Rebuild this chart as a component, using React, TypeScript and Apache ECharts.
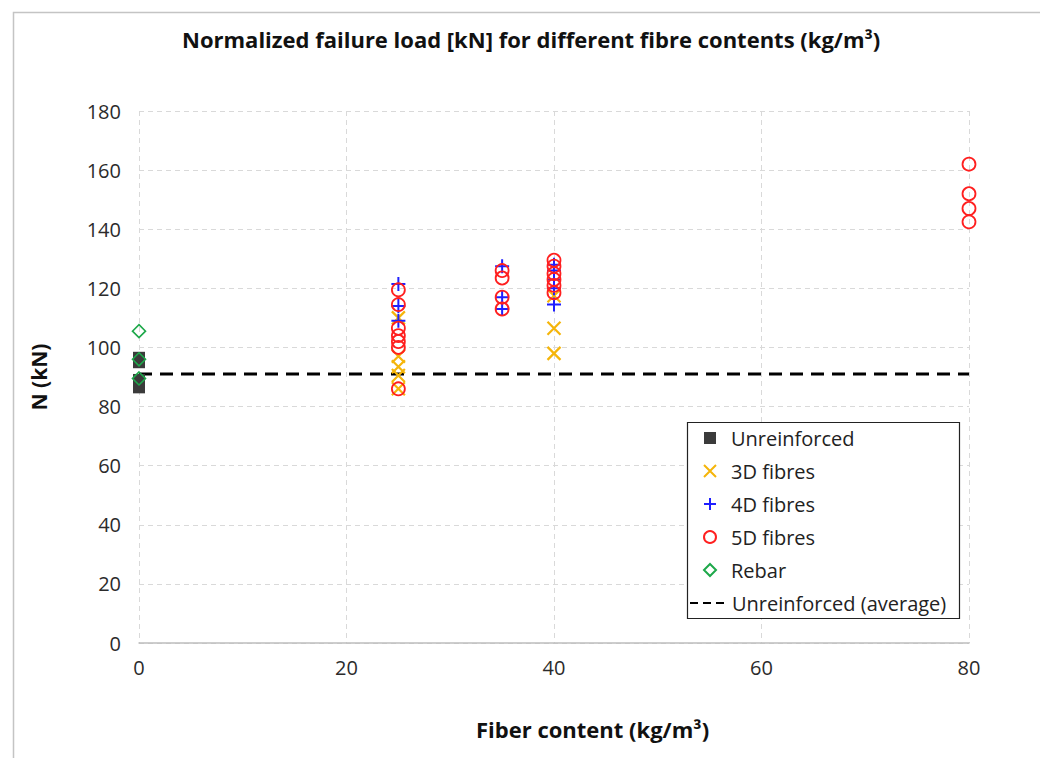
import React, { useEffect, useRef } from "react";
import * as echarts from "echarts";

const unreinforcedX = [0, 0, 0, 0];
const unreinforcedY = [96.5, 95, 89, 86.5];
const fibre3DX = [25, 25, 25, 25, 25, 40, 40, 40];
const fibre3DY = [110, 97, 93.5, 90.5, 86, 117.5, 106.5, 98];
const fibre4DX = [25, 25, 25, 35, 35, 35, 40, 40, 40, 40, 40];
const fibre4DY = [121.5, 114, 109, 127.5, 117, 113, 128, 126, 123, 120, 114.5];
const fibre5DX = [25, 25, 25, 25, 25, 25, 25, 35, 35, 35, 35, 40, 40, 40, 40, 40, 40, 80, 80, 80, 80];
const fibre5DY = [119.5, 114.5, 106.5, 104, 102, 100, 86, 126, 123.5, 117, 113, 129.5, 127.5, 125, 123, 121, 118.5, 162, 152, 147, 142.5];
const rebarX = [0, 0, 0];
const rebarY = [105.5, 96, 89.5];
const averageX = [0, 80];
const averageValue = 91;

const xTicks = { min: 0, max: 80, interval: 20 };
const yTicks = { min: 0, max: 180, interval: 20 };

const pairs = (xs: number[], ys: number[]) => xs.map((x, i) => [x, ys[i]]);

const FONT = "'Open Sans', 'Noto Sans', sans-serif";
const CROSS = "path://M0,0L10,10M10,0L0,10";
const PLUS = "path://M5,0L5,10M0,5L10,5";

export default function App() {
  const ref = useRef<HTMLDivElement>(null);
  useEffect(() => {
    if (!ref.current) return;
    const chart = echarts.init(ref.current, undefined, { renderer: "svg" });
    chart.setOption({
      animation: false,
      backgroundColor: "#fff",
      textStyle: { fontFamily: FONT },
      title: [
        {
          text: "Normalized failure load [kN] for different fibre contents (kg/m³)",
          left: 177,
          top: 23,
          textStyle: { fontSize: 22, fontWeight: "bold", color: "#111", fontFamily: FONT },
        },
        {
          text: "Fiber content (kg/m³)",
          left: 471,
          top: 713,
          textStyle: { fontSize: 22, fontWeight: "bold", color: "#111", fontFamily: FONT },
        },
      ],
      graphic: [
        {
          type: "rect",
          shape: { x: 13.5, y: 12.5, width: 1040, height: 760 },
          style: { fill: "none", stroke: "#c4c4c4", lineWidth: 1.5 },
          silent: true,
          z: -10,
        },
        {
          type: "rect",
          shape: { x: 687.5, y: 422.5, width: 272, height: 196 },
          style: { fill: "#fff", stroke: "#222", lineWidth: 1.2 },
          z: 5,
        },
      ],
      grid: { left: 139, right: 71, top: 111, bottom: 115 },
      xAxis: {
        type: "value",
        min: xTicks.min,
        max: xTicks.max,
        interval: xTicks.interval,
        axisLine: { show: true, lineStyle: { color: "#bdbdbd", width: 1.5 } },
        axisTick: { show: false },
        axisLabel: { fontSize: 20, color: "#2b2b2b", margin: 14, fontFamily: FONT },
        splitLine: { show: true, lineStyle: { color: "#d9d9d9", type: [5, 4], width: 1 } },
      },
      yAxis: {
        type: "value",
        min: yTicks.min,
        max: yTicks.max,
        interval: yTicks.interval,
        name: "N (kN)",
        nameLocation: "middle",
        nameGap: 90,
        nameTextStyle: { fontSize: 21, fontWeight: "bold", color: "#111", fontFamily: FONT },
        axisLine: { show: false },
        axisTick: { show: false },
        axisLabel: { fontSize: 20, color: "#2b2b2b", margin: 18, fontFamily: FONT },
        splitLine: { show: true, lineStyle: { color: "#d9d9d9", type: [5, 4], width: 1 } },
      },
      legend: [
        {
          data: ["Unreinforced", "3D fibres", "4D fibres", "5D fibres", "Rebar"],
          orient: "vertical",
          left: 703,
          top: 428,
          padding: 0,
          itemWidth: 12,
          itemHeight: 12,
          itemGap: 13,
          z: 10,
          textStyle: { fontSize: 20, color: "#222", lineHeight: 17, padding: [0, 0, 0, 10], fontFamily: FONT },
        },
        {
          data: ["Unreinforced (average)"],
          orient: "vertical",
          left: 689,
          top: 593,
          padding: 0,
          itemWidth: 38,
          itemHeight: 12,
          z: 10,
          itemStyle: { opacity: 0 },
          lineStyle: { width: 2, type: [8, 5] },
          textStyle: { fontSize: 20, color: "#222", lineHeight: 17, padding: [0, 0, 0, -1], fontFamily: FONT },
        },
      ],
      series: [
        {
          name: "Unreinforced (average)",
          type: "line",
          data: averageX.map((x) => [x, averageValue]),
          symbol: "none",
          lineStyle: { color: "#000", width: 3, type: [13, 8] },
          itemStyle: { color: "#000" },
          z: 1,
        },
        {
          name: "Unreinforced",
          type: "scatter",
          data: pairs(unreinforcedX, unreinforcedY),
          symbol: "rect",
          symbolSize: 12,
          itemStyle: { color: "#3b3b3b", opacity: 1 },
          z: 2,
        },
        {
          name: "3D fibres",
          type: "scatter",
          data: pairs(fibre3DX, fibre3DY),
          symbol: CROSS,
          symbolSize: 13,
          itemStyle: { color: "transparent", borderColor: "#f5b50a", borderWidth: 2.2, opacity: 1 },
          z: 3,
        },
        {
          name: "4D fibres",
          type: "scatter",
          data: pairs(fibre4DX, fibre4DY),
          symbol: PLUS,
          symbolSize: 14,
          itemStyle: { color: "transparent", borderColor: "#1f1fff", borderWidth: 2, opacity: 1 },
          z: 4,
        },
        {
          name: "5D fibres",
          type: "scatter",
          data: pairs(fibre5DX, fibre5DY),
          symbol: "circle",
          symbolSize: 13,
          itemStyle: { color: "transparent", borderColor: "#ff1f1f", borderWidth: 1.8, opacity: 1 },
          z: 5,
        },
        {
          name: "Rebar",
          type: "scatter",
          data: pairs(rebarX, rebarY),
          symbol: "diamond",
          symbolSize: 13,
          itemStyle: { color: "transparent", borderColor: "#1ea84a", borderWidth: 1.6, opacity: 1 },
          z: 6,
        },
      ],
    });
    return () => chart.dispose();
  }, []);
  return (
    <div
      ref={ref}
      style={{ position: "fixed", left: 0, top: 0, width: 1040, height: 758 }}
    />
  );
}
